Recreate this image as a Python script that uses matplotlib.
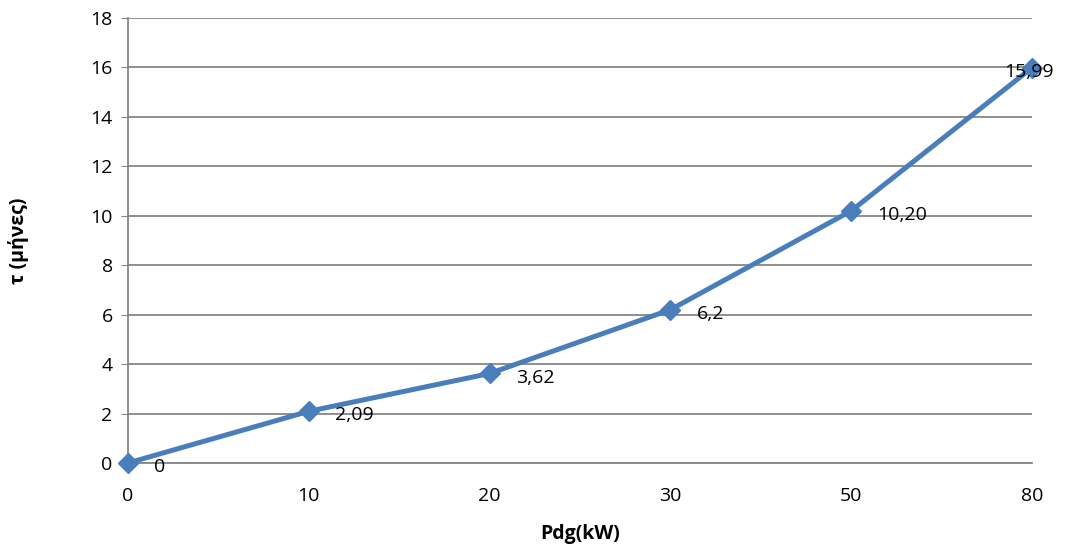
import matplotlib.pyplot as plt

# data
pdg = ["0", "10", "20", "30", "50", "80"]
tau = [0, 2.09, 3.62, 6.2, 10.2, 15.99]
labels = ["0", "2,09", "3,62", "6,2", "10,20", "15,99"]

plt.rcParams['font.family'] = ['Open Sans', 'DejaVu Sans']

fig = plt.figure(figsize=(10.72, 5.54), dpi=100)
ax = fig.add_axes([0.1194, 0.1643, 0.9627 - 0.1194, 0.9675 - 0.1643])

pos = list(range(len(pdg)))
ax.plot(pos, tau, color='#4a7ebb', lw=3.6, marker='D', ms=10,
        solid_joinstyle='round', zorder=3, clip_on=False)

for i, (v, s) in enumerate(zip(tau, labels)):
    dx = 19 if i < len(pos) - 1 else -20
    ax.annotate(s, (i, v), xytext=(dx, -3), textcoords='offset points',
                ha='left', va='center', fontsize=14, color='black', zorder=4)

ax.set_xlim(0, len(pdg) - 1)
ax.set_ylim(0, 18)
ax.set_yticks(range(0, 19, 2))
ax.set_xticks(pos)
ax.set_xticklabels(pdg)

ax.grid(axis='y', color='#868686', lw=1.3)
ax.set_axisbelow(True)
for sp in ['top', 'right']:
    ax.spines[sp].set_visible(False)
for sp in ['left', 'bottom']:
    ax.spines[sp].set_color('#868686')
    ax.spines[sp].set_linewidth(1.3)
ax.tick_params(axis='y', length=5, color='#868686', labelsize=14, pad=6)
ax.tick_params(axis='x', length=0, labelsize=14, pad=17)

ax.set_xlabel('Pdg(kW)', fontsize=14, fontweight='bold', labelpad=14)
ax.set_ylabel('τ (μήνες)', fontsize=14, fontweight='bold', labelpad=44)

fig.savefig('out.png', dpi=100)
